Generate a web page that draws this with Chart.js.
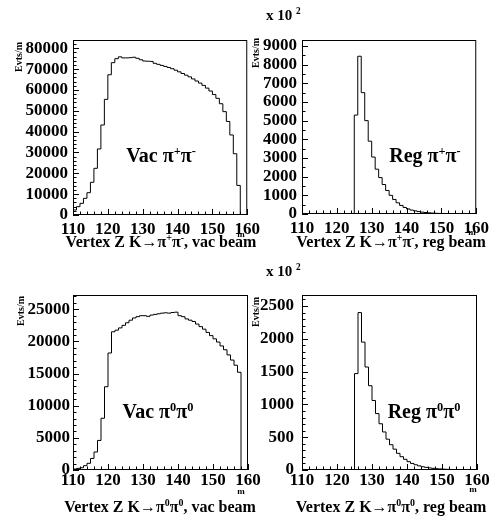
<!DOCTYPE html>
<html>
<head>
<meta charset="utf-8">
<script src="https://cdn.jsdelivr.net/npm/chart.js@4.4.1/dist/chart.umd.min.js"></script>
<style>
  body { margin: 0; background: #fff; width: 494px; height: 519px; position: relative; overflow: hidden;
         font-family: 'Liberation Serif', 'Times New Roman', serif; font-weight: bold; color: #000; }
  canvas { position: absolute; }
  .t { position: absolute; white-space: nowrap; line-height: 1; }
  .c { transform: translateX(-50%); }
  .rot { transform: translate(-50%, -50%) rotate(-90deg); }
  sup { font-size: 0.62em; line-height: 0; vertical-align: 0.6em; }
</style>
</head>
<body>

<canvas id="c1" width="261" height="240" style="left:3px;top:20px"></canvas>
<canvas id="c2" width="261" height="239" style="left:232px;top:20px"></canvas>
<canvas id="c3" width="261" height="240" style="left:3px;top:275px"></canvas>
<canvas id="c4" width="261" height="240" style="left:232px;top:275px"></canvas>

<!-- texte des pads -->
<div class="t" style="left:266px;top:8px;font-size:15px">x 10 <sup>2</sup></div>
<div class="t" style="left:266px;top:264px;font-size:15px">x 10 <sup>2</sup></div>

<div class="t rot" style="left:19px;top:57px;font-size:10px">Evts/m</div>
<div class="t rot" style="left:256px;top:53px;font-size:10px">Evts/m</div>
<div class="t rot" style="left:21px;top:311px;font-size:10px">Evts/m</div>
<div class="t rot" style="left:256px;top:312px;font-size:10px">Evts/m</div>

<div class="t c" style="left:161px;top:145px;font-size:20px">Vac π<sup>+</sup>π<sup>-</sup></div>
<div class="t c" style="left:425px;top:145px;font-size:20px">Reg π<sup>+</sup>π<sup>-</sup></div>
<div class="t c" style="left:158px;top:401px;font-size:20px">Vac π<sup>0</sup>π<sup>0</sup></div>
<div class="t c" style="left:424px;top:401px;font-size:20px">Reg π<sup>0</sup>π<sup>0</sup></div>

<div class="t c" style="left:241px;top:230px;font-size:9px">m</div>
<div class="t c" style="left:472px;top:228px;font-size:9px">m</div>
<div class="t c" style="left:241px;top:487px;font-size:9px">m</div>
<div class="t c" style="left:473px;top:485px;font-size:9px">m</div>

<div class="t c" style="left:161px;top:234px;font-size:16px">Vertex Z K→π<sup>+</sup>π<sup>-</sup>, vac beam</div>
<div class="t c" style="left:391px;top:234px;font-size:16px">Vertex Z K→π<sup>+</sup>π<sup>-</sup>, reg beam</div>
<div class="t c" style="left:160px;top:499px;font-size:16px">Vertex Z K→π<sup>0</sup>π<sup>0</sup>, vac beam</div>
<div class="t c" style="left:391px;top:499px;font-size:16px">Vertex Z K→π<sup>0</sup>π<sup>0</sup>, reg beam</div>

<script>
// bords des bins en Z (m), 1 m par bin
const zEdges = [110, 111, 112, 113, 114, 115, 116, 117, 118, 119,
                120, 121, 122, 123, 124, 125, 126, 127, 128, 129,
                130, 131, 132, 133, 134, 135, 136, 137, 138, 139,
                140, 141, 142, 143, 144, 145, 146, 147, 148, 149,
                150, 151, 152, 153, 154, 155, 156, 157, 158, 159, 160];

// contenu des bins, Evts/m
const vacPipi = [2400, 4000, 5600, 8000, 10700, 15700, 22400, 31700, 43200, 55500,
                 67300, 73100, 75000, 75900, 75400, 75400, 75500, 75700, 75200, 74500,
                 73900, 73800, 73700, 72800, 72300, 71800, 71300, 70800, 70200, 69500,
                 68700, 67900, 67100, 66300, 65300, 64300, 63300, 62200, 60900, 59500,
                 57800, 56000, 53400, 49600, 44900, 38400, 29400, 14200, 0, 0];

const regPipi = [0, 0, 0, 0, 0, 0, 0, 0, 0, 0,
                 0, 0, 0, 0, 0, 5300, 8450, 6500, 5000, 3900,
                 3050, 2400, 1950, 1580, 1260, 1000, 780, 600, 460, 350,
                 270, 210, 165, 130, 100, 80, 62, 48, 38, 30,
                 24, 19, 15, 12, 9, 7, 6, 5, 4, 3];

const vacPi0 = [150, 250, 350, 670, 1040, 1800, 2800, 4600, 8050, 12950,
                18200, 21500, 21750, 22100, 22500, 22900, 23300, 23650, 23850, 24000,
                24000, 23900, 24100, 24200, 24300, 24400, 24450, 24400, 24500, 24550,
                24000, 23850, 23500, 23300, 23100, 22700, 22300, 21900, 21400, 20900,
                20400, 19900, 19300, 18700, 17900, 17100, 16300, 15200, 0, 0];

const regPi0 = [0, 0, 0, 0, 0, 0, 0, 0, 0, 0,
                0, 0, 0, 0, 0, 1470, 2400, 1950, 1570, 1285,
                1060, 860, 705, 580, 470, 385, 318, 254, 203, 163,
                127, 100, 80, 63, 50, 40, 32, 25, 20, 16,
                13, 10, 8, 6, 5, 4, 3, 3, 2, 2];

// labels des axes
const xLabels = [110, 120, 130, 140, 150, 160];
const yLabelsVacPipi = [0, 10000, 20000, 30000, 40000, 50000, 60000, 70000, 80000];
const yLabelsRegPipi = [0, 1000, 2000, 3000, 4000, 5000, 6000, 7000, 8000, 9000];
const yLabelsVacPi0 = [0, 5000, 10000, 15000, 20000, 25000];
const yLabelsRegPi0 = [0, 500, 1000, 1500, 2000, 2500];

// axes : bornes et pas des petites graduations
const xAxis = { min: 110, max: 160, minor: 2 };
const yAxes = {
  c1: { max: 83980, minor: 2000, labels: yLabelsVacPipi },
  c2: { max: 9320,  minor: 500,  labels: yLabelsRegPipi },
  c3: { max: 27220, minor: 1000, labels: yLabelsVacPi0 },
  c4: { max: 2668,  minor: 100,  labels: yLabelsRegPi0 }
};

const tickFont = { family: "'Liberation Serif', 'Times New Roman', serif", size: 17, weight: 'bold' };

// graduations toutes les "minor", labels seulement sur la liste
function setTicks(scale, min, max, minor) {
  const ticks = [];
  for (let v = min; v <= max; v += minor) ticks.push({ value: v });
  scale.ticks = ticks;
}

// cadre + graduations vers l'intérieur, style ROOT
const rootFrame = {
  id: 'rootFrame',
  afterDatasetsDraw(chart) {
    const { ctx, chartArea: a, scales: { x, y } } = chart;
    ctx.save();
    ctx.strokeStyle = '#000';
    ctx.lineWidth = 1;
    ctx.strokeRect(a.left + 0.5, a.top + 0.5, a.right - a.left - 1, a.bottom - a.top - 1);
    ctx.beginPath();
    x.ticks.forEach(t => {
      const px = Math.round(x.getPixelForValue(t.value)) + 0.5;
      const len = t.label !== '' ? 6 : 3.5;
      ctx.moveTo(px, a.bottom);
      ctx.lineTo(px, a.bottom - len);
    });
    y.ticks.forEach(t => {
      const py = Math.round(y.getPixelForValue(t.value)) + 0.5;
      const len = t.label !== '' ? 6 : 3.5;
      ctx.moveTo(a.left, py);
      ctx.lineTo(a.left + len, py);
    });
    ctx.stroke();
    ctx.restore();
  }
};

function histoPoints(values) {
  // un point par bord bas de bin, plus le bord haut du dernier bin
  return zEdges.map((z, i) => ({ x: z, y: values[Math.min(i, values.length - 1)] }));
}

function dessiner(id, values, xPad, yPad) {
  const ya = yAxes[id];
  new Chart(document.getElementById(id), {
    type: 'line',
    data: {
      datasets: [{
        data: histoPoints(values),
        stepped: 'before',
        borderColor: '#000',
        borderWidth: 1,
        pointRadius: 0,
        fill: false
      }]
    },
    options: {
      responsive: false,
      animation: false,
      devicePixelRatio: 1,
      layout: { padding: { top: 20, right: 16, bottom: 0, left: 0 } },
      plugins: { legend: { display: false }, tooltip: { enabled: false } },
      scales: {
        x: {
          type: 'linear', min: xAxis.min, max: xAxis.max,
          grid: { display: false, drawTicks: false },
          border: { display: false },
          afterBuildTicks: s => setTicks(s, xAxis.min, xAxis.max, xAxis.minor),
          ticks: {
            autoSkip: false, maxRotation: 0, padding: xPad, color: '#000', font: tickFont,
            callback: v => (xLabels.includes(v) ? String(v) : '')
          },
          afterFit: s => { s.height = 45; }
        },
        y: {
          type: 'linear', min: 0, max: ya.max,
          grid: { display: false, drawTicks: false },
          border: { display: false },
          afterBuildTicks: s => setTicks(s, 0, ya.max, ya.minor),
          ticks: {
            autoSkip: false, padding: yPad, color: '#000', font: tickFont,
            callback: v => (ya.labels.includes(v) ? String(v) : '')
          },
          afterFit: s => { s.width = 70; }
        }
      }
    },
    plugins: [rootFrame]
  });
}

dessiner('c1', vacPipi, 4, 5);
dessiner('c2', regPipi, 4, 5);
dessiner('c3', vacPi0, 0, 3);
dessiner('c4', regPi0, 0, 8);
</script>
</body>
</html>
